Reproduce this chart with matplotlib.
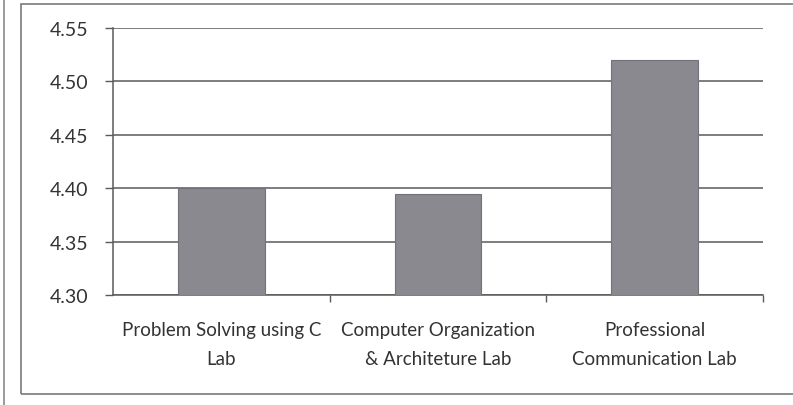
import matplotlib
matplotlib.use("Agg")
import matplotlib.pyplot as plt
from matplotlib.patches import Rectangle
from matplotlib.lines import Line2D

# data
labs = ["Problem Solving using C\nLab",
        "Computer Organization\n& Architeture Lab",
        "Professional\nCommunication Lab"]
scores = [4.40, 4.395, 4.52]
yticks = [4.30, 4.35, 4.40, 4.45, 4.50, 4.55]

plt.rcParams["font.family"] = ["Lato", "DejaVu Sans"]
txt = "#333333"
grid = "#5a5a5a"

fig = plt.figure(figsize=(7.93, 4.06), dpi=100)
ax = fig.add_axes([113 / 793, 1 - 296 / 406, (763 - 113) / 793, (296 - 29) / 406])

x = list(range(len(labs)))
ax.bar(x, [s - yticks[0] for s in scores], bottom=yticks[0], width=0.4,
       color="#8b8990", edgecolor="#737278", linewidth=0.8, zorder=3)

ax.set_xlim(-0.5, len(labs) - 0.5)
ax.set_ylim(yticks[0], yticks[-1])
ax.set_yticks(yticks)
ax.set_yticklabels([f"{t:.2f}" for t in yticks])
ax.yaxis.grid(True, color=grid, linewidth=1.1, zorder=0)

ax.set_xticks(x)
ax.set_xticklabels(labs, linespacing=1.9)
ax.set_xticks([i + 0.5 for i in x], minor=True)
ax.tick_params(axis="x", which="major", length=0, pad=18.5, labelsize=13.5, colors=txt)
ax.tick_params(axis="x", which="minor", length=5, width=1, color=grid)
ax.tick_params(axis="y", length=6, width=1, color=grid, pad=12, labelsize=14, labelcolor=txt)

for s in ["top", "right"]:
    ax.spines[s].set_visible(False)
ax.spines["left"].set_color(grid)
ax.spines["left"].set_linewidth(1.1)
ax.spines["bottom"].set_color(grid)
ax.spines["bottom"].set_linewidth(1.1)

# chart frame from the scan
fig.patches.append(Rectangle((21 / 793, 1 - 395 / 406), 1.0, (395 - 5) / 406,
                             transform=fig.transFigure, fill=False,
                             edgecolor="#7a7a7a", linewidth=1.2))
fig.lines.append(Line2D([4 / 793, 4 / 793], [0, 1], transform=fig.transFigure,
                        color="#8a8a8a", linewidth=1.2))

fig.savefig("out.png", dpi=100)
